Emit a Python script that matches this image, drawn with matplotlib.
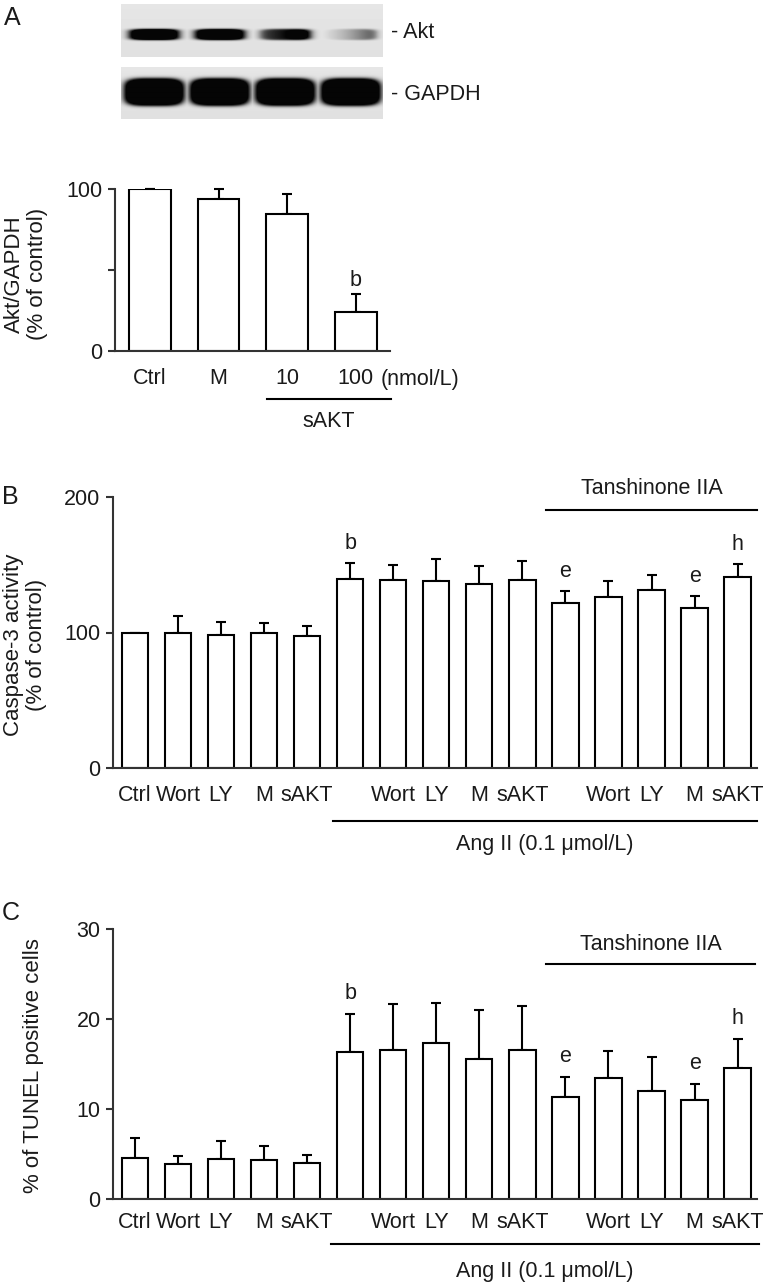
import numpy as np
import matplotlib
matplotlib.use('Agg')
import matplotlib.pyplot as plt
import matplotlib.transforms as mtransforms

## Panel A - blot band intensities (0 = empty, 1 = saturated), left half / right half of each lane
akt_left = [0.97, 0.93, 0.55, 0.06]
akt_right = [0.97, 0.98, 1.0, 0.5]
gapdh_band = [1.0, 1.0, 1.0, 1.0]

## Panel A - Akt/GAPDH (% of control)
a_labels = ['Ctrl', 'M', '10', '100']
a_mean = [100.0, 93.8, 84.8, 23.9]
a_upper = [100.0, 100.0, 96.9, 35.4]
a_marks = ['', '', '', 'b']

## Panels B and C share the same 15 groups
groups = ['Ctrl', 'Wort', 'LY', 'M', 'sAKT', 'Ang II', 'Wort', 'LY', 'M', 'sAKT',
          'Tan', 'Wort', 'LY', 'M', 'sAKT']
tick_labels = ['Ctrl', 'Wort', 'LY', 'M', 'sAKT', '', 'Wort', 'LY', 'M', 'sAKT',
               '', 'Wort', 'LY', 'M', 'sAKT']
marks = ['', '', '', '', '', 'b', '', '', '', '', 'e', '', '', 'e', 'h']

## Panel B - caspase-3 activity (% of control)
b_mean = [100.0, 99.4, 98.2, 99.9, 97.4, 139.8, 139.1, 137.9, 135.6, 139.1,
          121.6, 126.5, 131.2, 117.9, 140.8]
b_upper = [100.0, 112.4, 107.8, 107.3, 104.8, 151.2, 150.0, 153.9, 149.0, 152.7,
           130.7, 137.9, 142.3, 127.2, 150.4]

## Panel C - % of TUNEL positive cells
c_mean = [4.59, 3.89, 4.41, 4.33, 4.04, 16.37, 16.56, 17.33, 15.59, 16.56,
          11.33, 13.41, 11.96, 11.04, 14.56]
c_upper = [6.74, 4.78, 6.48, 5.93, 4.93, 20.56, 21.70, 21.74, 21.00, 21.44,
           13.59, 16.41, 15.74, 12.74, 17.81]

W, H = 769, 1284
txt = '#1a1a1a'
axc = '#333333'
font = 'Liberation Sans'
fs = 15.5


def box(x0, y0, x1, y1):
    return [x0 / W, 1 - y1 / H, (x1 - x0) / W, (y1 - y0) / H]


def bars(ax, mean, upper, marks, ylim, yticks, yticklabels, mark_pad):
    x = np.arange(len(mean))
    mean = np.array(mean)
    upper = np.array(upper)
    ax.bar(x, mean, width=0.61, color='white', edgecolor='black', linewidth=1.5, zorder=2)
    ax.errorbar(x, mean, yerr=[np.zeros_like(mean), upper - mean], fmt='none',
                ecolor='black', elinewidth=1.5, capsize=3.5, capthick=1.5, zorder=1, clip_on=False)
    for i, m in enumerate(marks):
        if m:
            ax.annotate(m, (x[i], upper[i]), xytext=(0, mark_pad), textcoords='offset pixels',
                        ha='center', va='bottom', fontsize=fs, family=font, color=txt)
    ax.set_ylim(*ylim)
    ax.set_yticks(yticks)
    ax.set_yticklabels(yticklabels, fontsize=fs, family=font, color=txt)
    for s in ['top', 'right']:
        ax.spines[s].set_visible(False)
    for s in ['left', 'bottom']:
        ax.spines[s].set_color(axc)
        ax.spines[s].set_linewidth(1.5)
    ax.tick_params(axis='y', direction='out', length=5, width=1.5, color=axc, pad=4)
    ax.tick_params(axis='x', length=0)


def group_line(ax, x0, x1, y, label, ty):
    tr = mtransforms.blended_transform_factory(ax.transData, ax.transAxes)
    ax.plot([x0, x1], [y, y], color='black', linewidth=1.5, transform=tr, clip_on=False)
    ax.text((x0 + x1) / 2, ty, label, transform=tr, ha='center', va='center',
            fontsize=fs, family=font, color=txt)


fig = plt.figure(figsize=(W / 100, H / 100), dpi=100)

## ---- blot strips ----
def blot(rect, left, right, tall):
    ax = fig.add_axes(rect)
    nx, ny = 262, 53
    xx, yy = np.meshgrid(np.arange(nx), np.arange(ny))
    img = np.full((ny, nx), 0.90) - 0.02 * yy / ny
    for i in range(4):
        c = (i + 0.5) * nx / 4
        if tall:
            hw, yc, hh, soft = 30, 25, 14, 0.07
        else:
            hw, yc, hh, soft = 25, 30, 5.5, 0.1
        d = (np.abs(xx - c) / hw) ** 4 + (np.abs(yy - yc) / hh) ** 4
        shape = 1 / (1 + np.exp((d ** 0.25 - 1) / soft))
        t = np.clip((xx - c + hw) / (2 * hw), 0, 1)
        level = left[i] + (right[i] - left[i]) * t ** 1.5
        dark = np.clip(shape * level * 1.4, 0, 1)
        img = np.minimum(img, 0.90 - dark * 0.88)
    ax.imshow(img, cmap='gray', vmin=0, vmax=1, aspect='auto', interpolation='bilinear')
    ax.axis('off')

blot(box(121, 4, 383, 57), akt_left, akt_right, False)
blot(box(121, 67, 383, 119), gapdh_band, gapdh_band, True)
fig.text(391 / W, 1 - 33 / H, '- Akt', fontsize=fs, family=font, color=txt, va='center')
fig.text(391 / W, 1 - 94 / H, '- GAPDH', fontsize=fs, family=font, color=txt, va='center')

## ---- panel A bars ----
axA = fig.add_axes(box(115, 189, 390, 351))
bars(axA, a_mean, a_upper, a_marks, (0, 100), [0, 50, 100], ['0', '', '100'], 3)
axA.set_xlim(-0.51, 3.5)
axA.set_xticks(range(len(a_labels)))
axA.set_xticklabels(a_labels, fontsize=fs, family=font, color=txt)
axA.tick_params(axis='x', pad=12)
trA = mtransforms.blended_transform_factory(axA.transData, axA.transAxes)
axA.text(3.36, -0.173, '(nmol/L)', transform=trA, ha='left', va='center',
         fontsize=fs, family=font, color=txt)
group_line(axA, 1.7, 3.51, -0.296, 'sAKT', -0.438)

## ---- panel B ----
axB = fig.add_axes(box(113, 497, 757, 768))
bars(axB, b_mean, b_upper, marks, (0, 200), [0, 100, 200], ['0', '100', '200'], 9)
axB.set_xlim(-0.51, 14.45)
axB.set_xticks(range(len(groups)))
axB.set_xticklabels(tick_labels, fontsize=fs, family=font, color=txt)
axB.tick_params(axis='x', pad=12)
group_line(axB, 9.55, 14.45, 0.952, 'Tanshinone IIA', 1.033)
group_line(axB, 4.6, 14.45, -0.196, 'Ang II (0.1 μmol/L)', -0.284)

## ---- panel C ----
axC = fig.add_axes(box(113, 929, 757, 1199))
bars(axC, c_mean, c_upper, marks, (0, 30), [0, 10, 20, 30], ['0', '10', '20', '30'], 10)
axC.set_xlim(-0.51, 14.45)
axC.set_xticks(range(len(groups)))
axC.set_xticklabels(tick_labels, fontsize=fs, family=font, color=txt)
axC.tick_params(axis='x', pad=9)
group_line(axC, 9.55, 14.4, 0.870, 'Tanshinone IIA', 0.941)
group_line(axC, 4.55, 14.5, -0.167, 'Ang II (0.1 μmol/L)', -0.27)

## ---- y labels and panel letters ----
fig.text(26 / W, 1 - 274 / H, 'Akt/GAPDH\n(% of control)', rotation=90, ha='center', va='center',
         fontsize=16, family=font, color=txt, linespacing=1.15)
fig.text(25 / W, 1 - 645 / H, 'Caspase-3 activity\n(% of control)', rotation=90, ha='center',
         va='center', fontsize=16, family=font, color=txt, linespacing=1.15)
fig.text(34 / W, 1 - 1066 / H, '% of TUNEL positive cells', rotation=90, ha='center',
         va='center', fontsize=16, family=font, color=txt)

fig.text(12 / W, 1 - 18 / H, 'A', fontsize=18, family=font, color=txt, ha='center', va='center')
fig.text(10 / W, 1 - 497 / H, 'B', fontsize=18, family=font, color=txt, ha='center', va='center')
fig.text(11 / W, 1 - 913 / H, 'C', fontsize=18, family=font, color=txt, ha='center', va='center')

plt.savefig('out.png', dpi=100)
